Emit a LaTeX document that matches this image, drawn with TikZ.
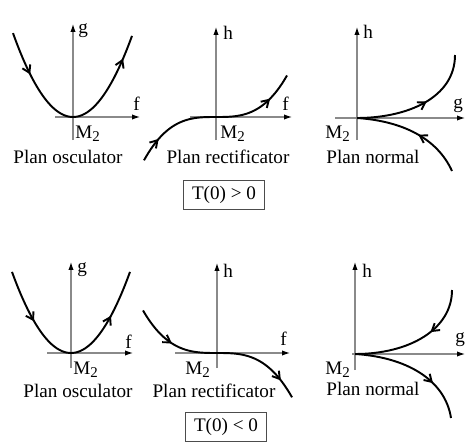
\documentclass[tikz,border=0pt]{standalone}
\usepackage{fontspec}
\setmainfont{Liberation Serif}
\usepackage{tikz}
\usetikzlibrary{arrows.meta,decorations.markings}
\definecolor{axisgray}{HTML}{8a8a8a}
\newcommand{\Mtwo}{M\raisebox{-0.45ex}{\fontsize{8.5}{9}\selectfont 2}}

\tikzset{
  axis/.style={axisgray,line width=0.6pt,-{Latex[black,length=4.5pt,width=3pt]}},
  curve/.style={line width=1.1pt,line join=round},
  lbl/.style={inner sep=0pt,font=\fontsize{10.9}{12}\selectfont},
  signbox/.style={draw=black!70,line width=0.6pt,inner xsep=5pt,inner ysep=3.5pt,font=\fontsize{10.9}{12}\selectfont},
  fwd/.style={postaction={decorate,decoration={markings,mark=at position #1 with {\arrow{Straight Barb[length=4pt,width=5pt]}}}}},
  bwd/.style={postaction={decorate,decoration={markings,mark=at position #1 with {\arrowreversed{Straight Barb[length=4pt,width=5pt]}}}}},
}

\begin{document}
\begin{tikzpicture}[x=0.02cm,y=0.02cm]
  \useasboundingbox (0,0) rectangle (467,444);

  % Plan osculator, T(0) > 0
  \begin{scope}[shift={(73,327)}]
    \draw[axis] (0,-23) -- (0,93);
    \draw[axis] (-18,0) -- (67,0);
    \draw[curve,fwd=0.21,fwd=0.885] plot[domain=-60:59,samples=61] (\x,{0.0233*\x*\x});
    \node[lbl,anchor=base west] (g1) at (5,84) {g};
    \node[lbl,anchor=base west] (f1) at (60,7) {f};
    \node[lbl,anchor=base west] (m1) at (2,-21) {\Mtwo};
    \node[lbl,anchor=base] (osc1) at (-5,-46) {Plan osculator};
  \end{scope}

  % Plan rectificator, T(0) > 0
  \begin{scope}[shift={(216,327)}]
    \draw[axis] (0,-23) -- (0,90);
    \draw[axis] (-26,0) -- (76,0);
    \draw[curve,fwd=0.146,fwd=0.838] plot[domain=-72:71,samples=61] (\x,{0.116*(\x/10)*(\x/10)*(\x/10)});
    \node[lbl,anchor=base west] (h2) at (7,78) {h};
    \node[lbl,anchor=base west] (f2) at (66,7) {f};
    \node[lbl,anchor=base west] (m2) at (4,-21) {\Mtwo};
    \node[lbl,anchor=base] (rect1) at (12,-46) {Plan rectificator};
  \end{scope}

  % Plan normal, T(0) > 0
  \begin{scope}[shift={(357,326)}]
    \draw[axis] (0,-22) -- (0,91);
    \draw[axis] (-22,0) -- (108,0);
    \draw[curve,fwd=0.56] (0,0) .. controls (50,0) and (98,20) .. (98,63);
    \draw[curve,bwd=0.56] (0,0) .. controls (45,-3) and (80,-20) .. (95,-53);
    \node[lbl,anchor=base west] (h3) at (6,80) {h};
    \node[lbl,anchor=base west] (g3) at (96,10) {g};
    \node[lbl,anchor=base west] (m3) at (-32,-20) {\Mtwo};
    \node[lbl,anchor=base] (norm1) at (16,-45) {Plan normal};
  \end{scope}

  \node[signbox] (tpos) at (224,249) {T(0) > 0};

  % Plan osculator, T(0) < 0
  \begin{scope}[shift={(71,91)}]
    \draw[axis] (0,-15) -- (0,91);
    \draw[axis] (-24,0) -- (62,0);
    \draw[curve,fwd=0.258,fwd=0.772] plot[domain=-59:59,samples=61] (\x,{0.0233*\x*\x});
    \node[lbl,anchor=base west] (g4) at (6,81) {g};
    \node[lbl,anchor=base west] (f4) at (54,5) {f};
    \node[lbl,anchor=base west] (m4) at (2,-21) {\Mtwo};
    \node[lbl,anchor=base] (osc2) at (7,-44) {Plan osculator};
  \end{scope}

  % Plan rectificator, T(0) < 0
  \begin{scope}[shift={(217,91)}]
    \draw[axis] (0,-15) -- (0,90);
    \draw[axis] (-42,0) -- (73,0);
    \draw[curve,fwd=0.24,fwd=0.89] plot[domain=-74:75,samples=61] (\x,{-0.105*(\x/10)*(\x/10)*(\x/10)});
    \node[lbl,anchor=base west] (h5) at (6,76) {h};
    \node[lbl,anchor=base west] (f5) at (63,8) {f};
    \node[lbl,anchor=base west] (m5) at (-32,-21) {\Mtwo};
    \node[lbl,anchor=base] (rect2) at (-3,-44) {Plan rectificator};
  \end{scope}

  % Plan normal, T(0) < 0
  \begin{scope}[shift={(355,90)}]
    \draw[axis] (0,-16) -- (0,92);
    \draw[axis] (-3,0) -- (110,0);
    \draw[curve,bwd=0.62] (0,0) .. controls (55,0) and (97,25) .. (97,64);
    \draw[curve,fwd=0.68] (0,0) .. controls (50,-3) and (90,-25) .. (96,-64);
    \node[lbl,anchor=base west] (h6) at (7,77) {h};
    \node[lbl,anchor=base west] (g6) at (100,12) {g};
    \node[lbl,anchor=base west] (m6) at (-30,-20) {\Mtwo};
    \node[lbl,anchor=base] (norm2) at (18,-41) {Plan normal};
  \end{scope}

  \node[signbox] (tneg) at (226,17) {T(0) < 0};
\end{tikzpicture}
\end{document}
